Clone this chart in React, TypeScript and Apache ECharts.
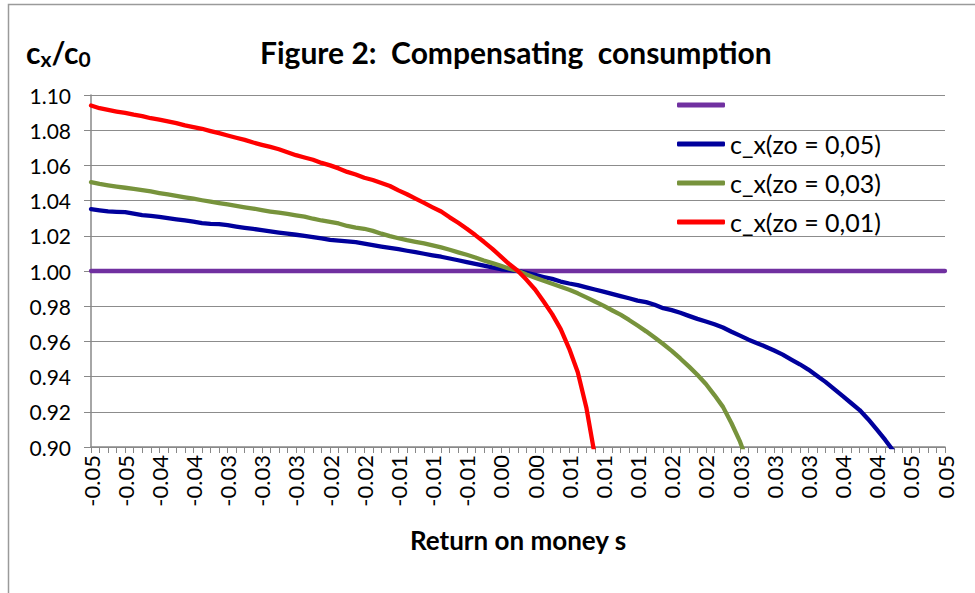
import React, { useEffect, useRef } from "react";
import * as echarts from "echarts";

// Return on money s: 101 categories from -0.050 to 0.050 (step 0.001)
const sValues: string[] = Array.from({ length: 101 }, (_, i) => ((i - 50) / 1000).toFixed(3));

// Tick labels shown every 4th category
const tickLabels = [
  "-0.05", "-0.05", "-0.04", "-0.04", "-0.03", "-0.03", "-0.03", "-0.02", "-0.02",
  "-0.01", "-0.01", "-0.01", "0.00", "0.00", "0.01", "0.01", "0.01", "0.02", "0.02",
  "0.03", "0.03", "0.03", "0.04", "0.04", "0.05", "0.05",
];

const baseline = [
  1.0, 1.0, 1.0, 1.0, 1.0, 1.0, 1.0, 1.0, 1.0, 1.0,
  1.0, 1.0, 1.0, 1.0, 1.0, 1.0, 1.0, 1.0, 1.0, 1.0,
  1.0, 1.0, 1.0, 1.0, 1.0, 1.0, 1.0, 1.0, 1.0, 1.0,
  1.0, 1.0, 1.0, 1.0, 1.0, 1.0, 1.0, 1.0, 1.0, 1.0,
  1.0, 1.0, 1.0, 1.0, 1.0, 1.0, 1.0, 1.0, 1.0, 1.0,
  1.0, 1.0, 1.0, 1.0, 1.0, 1.0, 1.0, 1.0, 1.0, 1.0,
  1.0, 1.0, 1.0, 1.0, 1.0, 1.0, 1.0, 1.0, 1.0, 1.0,
  1.0, 1.0, 1.0, 1.0, 1.0, 1.0, 1.0, 1.0, 1.0, 1.0,
  1.0, 1.0, 1.0, 1.0, 1.0, 1.0, 1.0, 1.0, 1.0, 1.0,
  1.0, 1.0, 1.0, 1.0, 1.0, 1.0, 1.0, 1.0, 1.0, 1.0,
  1.0,
];

const cxZo005 = [
  1.0352, 1.0345, 1.0339, 1.0336, 1.0334, 1.0326, 1.0318, 1.0313, 1.0308, 1.0301,
  1.0294, 1.0287, 1.0280, 1.0272, 1.0268, 1.0266, 1.0260, 1.0252, 1.0245, 1.0239,
  1.0232, 1.0225, 1.0218, 1.0212, 1.0206, 1.0199, 1.0193, 1.0185, 1.0177, 1.0172,
  1.0168, 1.0164, 1.0155, 1.0147, 1.0139, 1.0132, 1.0124, 1.0115, 1.0107, 1.0098,
  1.0089, 1.0081, 1.0071, 1.0061, 1.0050, 1.0040, 1.0030, 1.0020, 1.0010, 1.0005,
  1.0000, 0.9990, 0.9978, 0.9966, 0.9955, 0.9940, 0.9929, 0.9920, 0.9907, 0.9895,
  0.9883, 0.9870, 0.9857, 0.9845, 0.9832, 0.9823, 0.9808, 0.9789, 0.9778, 0.9763,
  0.9745, 0.9728, 0.9713, 0.9697, 0.9679, 0.9655, 0.9633, 0.9610, 0.9590, 0.9570,
  0.9548, 0.9525, 0.9497, 0.9470, 0.9440, 0.9405, 0.9370, 0.9330, 0.9290, 0.9250,
  0.9210, 0.9158, 0.9100, 0.9040, 0.8975, null, null, null, null, null,
  null,
];

const cxZo003 = [
  1.0505, 1.0495, 1.0487, 1.0480, 1.0473, 1.0467, 1.0460, 1.0452, 1.0443, 1.0435,
  1.0427, 1.0419, 1.0411, 1.0402, 1.0394, 1.0386, 1.0378, 1.0370, 1.0362, 1.0355,
  1.0346, 1.0338, 1.0331, 1.0324, 1.0316, 1.0309, 1.0297, 1.0287, 1.0279, 1.0270,
  1.0256, 1.0247, 1.0240, 1.0228, 1.0212, 1.0198, 1.0186, 1.0175, 1.0166, 1.0157,
  1.0146, 1.0134, 1.0121, 1.0106, 1.0092, 1.0077, 1.0060, 1.0045, 1.0029, 1.0013,
  1.0000, 0.9980, 0.9962, 0.9945, 0.9928, 0.9910, 0.9893, 0.9873, 0.9850, 0.9827,
  0.9803, 0.9777, 0.9752, 0.9722, 0.9690, 0.9657, 0.9622, 0.9585, 0.9546, 0.9503,
  0.9458, 0.9410, 0.9358, 0.9295, 0.9228, 0.9135, 0.9030, 0.8900, null, null,
  null, null, null, null, null, null, null, null, null, null,
  null, null, null, null, null, null, null, null, null, null,
  null,
];

const cxZo001 = [
  1.0940, 1.0925, 1.0915, 1.0906, 1.0898, 1.0888, 1.0880, 1.0868, 1.0860, 1.0850,
  1.0840, 1.0827, 1.0818, 1.0808, 1.0795, 1.0783, 1.0770, 1.0757, 1.0745, 1.0730,
  1.0717, 1.0705, 1.0692, 1.0675, 1.0658, 1.0645, 1.0632, 1.0614, 1.0600, 1.0583,
  1.0563, 1.0548, 1.0530, 1.0517, 1.0500, 1.0483, 1.0458, 1.0436, 1.0411, 1.0387,
  1.0362, 1.0338, 1.0305, 1.0274, 1.0240, 1.0204, 1.0166, 1.0126, 1.0082, 1.0038,
  1.0000, 0.9950, 0.9895, 0.9827, 0.9755, 0.9670, 0.9558, 0.9425, 0.9225, 0.8950,
  null, null, null, null, null, null, null, null, null, null,
  null, null, null, null, null, null, null, null, null, null,
  null, null, null, null, null, null, null, null, null, null,
  null, null, null, null, null, null, null, null, null, null,
  null,
];

const seriesNames = [" ", "c_x(zo = 0,05)", "c_x(zo = 0,03)", "c_x(zo = 0,01)"];
const seriesColors = ["#7030A0", "#00009C", "#77933C", "#FF0000"];
const seriesData = [baseline, cxZo005, cxZo003, cxZo001];

const FONT = "Lato, 'Open Sans', sans-serif";

export default function App() {
  const ref = useRef<HTMLDivElement>(null);
  useEffect(() => {
    if (!ref.current) return;
    const chart = echarts.init(ref.current, null, { renderer: "svg" });
    chart.setOption({
      animation: false,
      backgroundColor: "#ffffff",
      textStyle: { fontFamily: FONT },
      title: [
        {
          text: "Figure 2:  Compensating  consumption",
          left: 255,
          top: 32,
          textStyle: { fontFamily: FONT, fontWeight: "bold", fontSize: 30, color: "#000" },
        },
        {
          text: "{c|c}{s|x}{c|/c}{s|0}",
          left: 26,
          top: 35,
          padding: 0,
          textStyle: {
            rich: {
              c: { fontFamily: FONT, fontWeight: "bold", fontSize: 30, lineHeight: 34, color: "#000", verticalAlign: "middle" },
              s: { fontFamily: FONT, fontWeight: "bold", fontSize: 21, lineHeight: 18, color: "#000", verticalAlign: "bottom" },
            },
          },
        },
      ],
      graphic: [
        {
          type: "rect",
          shape: { x: 8.5, y: 4.5, width: 1200, height: 900 },
          style: { fill: "none", stroke: "#9a9a9a", lineWidth: 1.5 },
          silent: true,
        },
      ],
      legend: {
        orient: "vertical",
        left: 672,
        top: 87,
        itemWidth: 48,
        itemHeight: 5,
        itemGap: 13,
        icon: "roundRect",
        data: seriesNames,
        textStyle: { fontFamily: FONT, fontSize: 25, color: "#000", lineHeight: 26 },
      },
      grid: { left: 91, top: 95, right: 30, bottom: 146, containLabel: false },
      xAxis: {
        type: "category",
        data: sValues,
        boundaryGap: false,
        name: "Return on money s",
        nameLocation: "middle",
        nameGap: 80,
        nameTextStyle: { fontFamily: FONT, fontWeight: "bold", fontSize: 26, color: "#000" },
        axisLine: { lineStyle: { color: "#888", width: 1.5 } },
        axisTick: { show: true, interval: 0, length: 6, lineStyle: { color: "#888" } },
        axisLabel: {
          interval: 3,
          rotate: 90,
          margin: 8,
          fontFamily: FONT,
          fontSize: 22,
          color: "#000",
          formatter: (_v: string, idx: number) => tickLabels[Math.round(idx / 4)] ?? "",
        },
        splitLine: { show: false },
      },
      yAxis: {
        type: "value",
        min: 0.9,
        max: 1.1,
        interval: 0.02,
        axisLine: { show: true, lineStyle: { color: "#888", width: 1.5 } },
        axisTick: { show: true, length: 7, lineStyle: { color: "#888" } },
        axisLabel: {
          margin: 20,
          fontFamily: FONT,
          fontSize: 21,
          color: "#000",
          formatter: (v: number) => v.toFixed(2),
        },
        splitLine: { show: true, lineStyle: { color: "#8c8c8c", width: 1.2 } },
      },
      series: seriesData.map((d, k) => ({
        name: seriesNames[k],
        type: "line",
        data: d,
        showSymbol: false,
        symbol: "none",
        smooth: false,
        connectNulls: false,
        lineStyle: { color: seriesColors[k], width: 4.3, cap: "round", join: "round" },
        itemStyle: { color: seriesColors[k] },
        z: 2 + k,
      })),
    });
    return () => chart.dispose();
  }, []);
  return <div ref={ref} style={{ position: "fixed", left: 0, top: 0, width: 975, height: 593 }} />;
}
